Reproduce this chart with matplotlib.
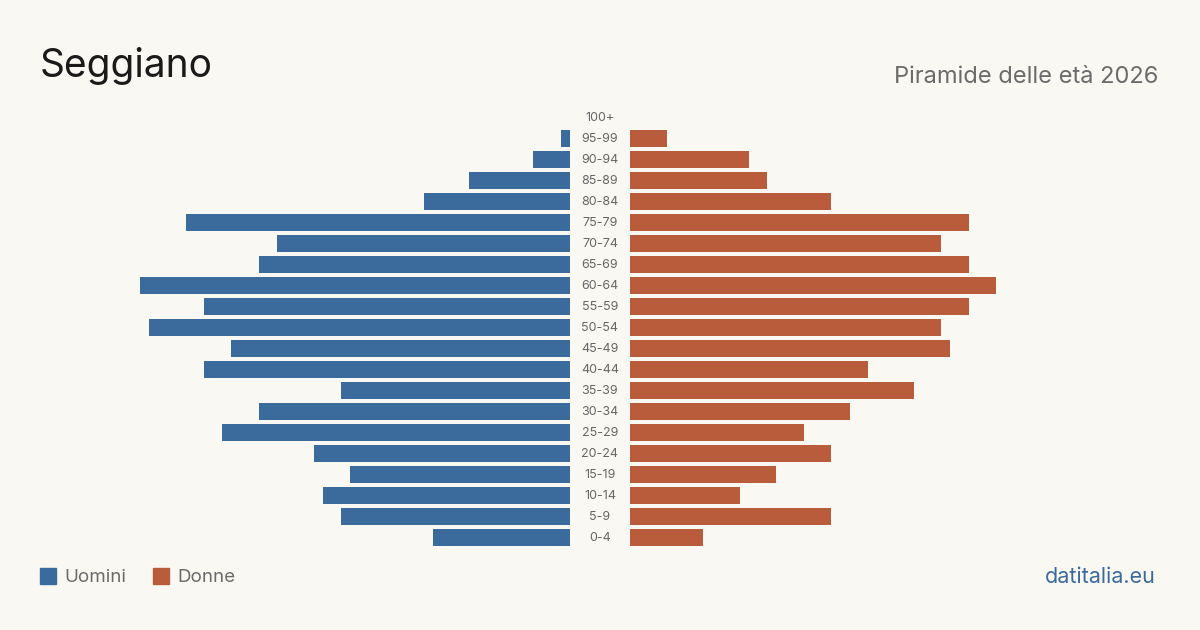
import matplotlib
matplotlib.use("Agg")
import matplotlib.pyplot as plt
from matplotlib.patches import Rectangle

plt.rcParams['font.family'] = ['Inter', 'DejaVu Sans']

age_groups = ["0-4", "5-9", "10-14", "15-19", "20-24", "25-29", "30-34", "35-39",
              "40-44", "45-49", "50-54", "55-59", "60-64", "65-69", "70-74", "75-79",
              "80-84", "85-89", "90-94", "95-99", "100+"]
men = [15, 25, 27, 24, 28, 38, 34, 25, 40, 37, 46, 40, 47, 34, 32, 42, 16, 11, 4, 1, 0]
women = [8, 22, 12, 16, 22, 19, 24, 31, 26, 35, 34, 37, 40, 37, 34, 37, 22, 15, 13, 4, 0]

title = "Seggiano"
subtitle = "Piramide delle età 2026"
legend_labels = ["Uomini", "Donne"]
source = "datitalia.eu"

BLUE = "#3b6b9c"
ORANGE = "#b95c3c"
BG = "#f9f8f3"

W, H = 1200, 630
fig = plt.figure(figsize=(12, 6.3), dpi=100, facecolor=BG)

px_per_unit = 9.15
left_px0, left_px1 = 40, 570
right_px0, right_px1 = 630, 1160
top_px, bot_px = 107, 548

def ax_rect(x0, x1):
    return [x0 / W, 1 - bot_px / H, (x1 - x0) / W, (bot_px - top_px) / H]

axL = fig.add_axes(ax_rect(left_px0, left_px1))
axR = fig.add_axes(ax_rect(right_px0, right_px1))
y = list(range(len(age_groups)))
axL.barh(y, men, height=0.8, color=BLUE)
axR.barh(y, women, height=0.8, color=ORANGE)
axL.set_xlim((left_px1 - left_px0) / px_per_unit, 0)
axR.set_xlim(0, (right_px1 - right_px0) / px_per_unit)
for ax in (axL, axR):
    ax.set_ylim(-0.5, len(age_groups) - 0.5)
    ax.axis("off")
    ax.set_facecolor("none")

for i, lab in enumerate(age_groups):
    yy = 1 - (bot_px - (i + 0.5) * (bot_px - top_px) / len(age_groups) + 0.5) / H
    fig.text(600 / W, yy, lab, ha="center", va="center", fontsize=9, color="#666666")

fig.text(40 / W, 1 - 66 / H, title, ha="left", va="center", fontsize=28, color="#1a1a1a")
fig.text(1158 / W, 1 - 77 / H, subtitle, ha="right", va="center", fontsize=17, color="#6b6b6b")

# legend
fig.patches.append(Rectangle((40 / W, 1 - 584 / H), 16 / W, 16 / H, transform=fig.transFigure,
                             color=BLUE, figure=fig))
fig.text(64 / W, 1 - 577 / H, legend_labels[0], ha="left", va="center", fontsize=13.5, color="#6b6b6b")
fig.patches.append(Rectangle((153 / W, 1 - 584 / H), 16 / W, 16 / H, transform=fig.transFigure,
                             color=ORANGE, figure=fig))
fig.text(177 / W, 1 - 577 / H, legend_labels[1], ha="left", va="center", fontsize=13.5, color="#6b6b6b")

fig.text(1156 / W, 1 - 577 / H, source, ha="right", va="center", fontsize=15.5, color=BLUE)

fig.savefig("out.png", dpi=100, facecolor=BG)
